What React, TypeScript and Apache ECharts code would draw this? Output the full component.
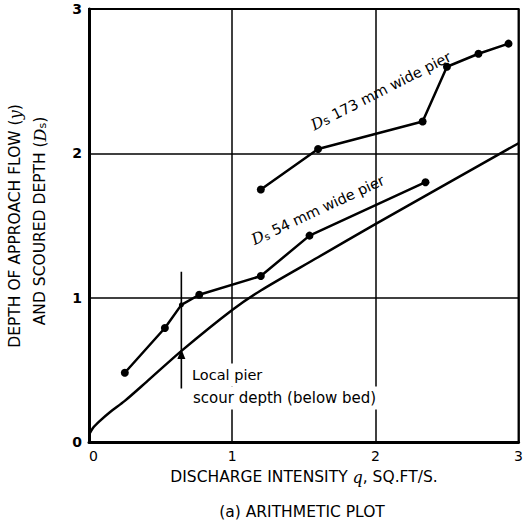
import React, { useEffect, useRef } from 'react';
import * as echarts from 'echarts';

const xTicks = [0, 1, 2, 3];
const yTicks = [0, 1, 2, 3];

// Depth of approach flow (y) vs discharge intensity q
const flowQ = [0, 0.03, 0.08, 0.15, 0.25, 0.4, 0.65, 1.0, 1.2, 1.6, 2.0, 2.5, 3.0];
const flowY = [0.05, 0.1, 0.15, 0.21, 0.285, 0.415, 0.635, 0.915, 1.05, 1.28, 1.51, 1.79, 2.07];

// Scoured depth Ds, 54 mm wide pier
const pier54Q = [0.25, 0.53, 0.645, 0.77, 1.2, 1.54, 2.35];
const pier54Ds = [0.48, 0.79, 0.95, 1.02, 1.15, 1.43, 1.8];

// Scoured depth Ds, 173 mm wide pier
const pier173Q = [1.2, 1.6, 2.33, 2.5, 2.72, 2.93];
const pier173Ds = [1.75, 2.03, 2.22, 2.6, 2.69, 2.76];

// Local pier scour depth (below bed) indicator
const localQ = [0.645, 0.645];
const localDs = [1.18, 0.37];
const triQ = [0.645];
const triY = [0.61];

const FONT = '"DejaVu Sans", "Open Sans", sans-serif';
const SERIF = '"DejaVu Serif", "Liberation Serif", serif';

export default function App() {
  const ref = useRef<HTMLDivElement>(null);
  useEffect(() => {
    if (!ref.current) return;
    const chart = echarts.init(ref.current, null, { renderer: 'svg' });
    const zip = (a: number[], b: number[]) => a.map((v, i) => [v, b[i]]);
    const lineStyle = { color: '#000', width: 2.5 };
    chart.setOption({
      animation: false,
      backgroundColor: '#fff',
      grid: {
        left: 89,
        right: 4,
        top: 9,
        bottom: 86,
        show: true,
        borderColor: '#000',
        borderWidth: 2,
      },
      xAxis: {
        type: 'value',
        min: xTicks[0],
        max: xTicks[xTicks.length - 1],
        interval: 1,
        axisLine: { show: true, lineStyle: { color: '#000', width: 3 } },
        axisTick: { show: false },
        splitLine: { show: true, lineStyle: { color: '#000', width: 1.5 } },
        axisLabel: {
          color: '#000',
          fontFamily: FONT,
          fontSize: 14,
          margin: 7,
          alignMinLabel: 'left',
        },
      },
      yAxis: {
        type: 'value',
        min: yTicks[0],
        max: yTicks[yTicks.length - 1],
        interval: 1,
        axisLine: { show: true, lineStyle: { color: '#000', width: 3 } },
        axisTick: { show: false },
        splitLine: { show: true, lineStyle: { color: '#000', width: 1.5 } },
        axisLabel: {
          color: '#000',
          fontFamily: FONT,
          fontWeight: 'bold',
          fontSize: 14,
          margin: 7,
        },
      },
      series: [
        {
          type: 'line',
          data: zip(flowQ, flowY),
          smooth: 0.3,
          showSymbol: false,
          lineStyle,
          z: 3,
        },
        {
          type: 'line',
          data: zip(pier54Q, pier54Ds).map((p, i) => ({
            value: p,
            symbolSize: i === 2 ? 5 : 8,
          })),
          symbol: 'circle',
          itemStyle: { color: '#000' },
          lineStyle,
          z: 4,
        },
        {
          type: 'line',
          data: zip(pier173Q, pier173Ds),
          symbol: 'circle',
          symbolSize: 8,
          itemStyle: { color: '#000' },
          lineStyle,
          z: 4,
        },
        {
          type: 'line',
          data: zip(localQ, localDs),
          showSymbol: false,
          lineStyle: { color: '#000', width: 1.6 },
          z: 3,
        },
        {
          type: 'scatter',
          data: zip(triQ, triY),
          symbol: 'triangle',
          symbolSize: [8, 10],
          itemStyle: { color: '#000', opacity: 1 },
          z: 6,
        },
      ],
      graphic: [
        {
          type: 'text',
          x: 381,
          y: 91,
          rotation: (27 * Math.PI) / 180,
          z: 10,
          style: {
            text: '{d|D}{s|s} 173 mm wide pier',
            fontFamily: FONT,
            fontSize: 14.5,
            fill: '#000',
            align: 'center',
            verticalAlign: 'middle',
            rich: {
              d: { fontFamily: SERIF, fontStyle: 'italic', fontSize: 15.5, fill: '#000' },
              s: { fontFamily: FONT, fontSize: 12, fill: '#000', padding: [3, 0, 0, 0] },
            },
          },
        },
        {
          type: 'text',
          x: 318,
          y: 210,
          rotation: (25 * Math.PI) / 180,
          z: 10,
          style: {
            text: '{d|D}{s|s} 54 mm wide pier',
            fontFamily: FONT,
            fontSize: 14.5,
            fill: '#000',
            align: 'center',
            verticalAlign: 'middle',
            rich: {
              d: { fontFamily: SERIF, fontStyle: 'italic', fontSize: 15.5, fill: '#000' },
              s: { fontFamily: FONT, fontSize: 10, fill: '#000', padding: [5, 0, 0, 0] },
            },
          },
        },
        {
          type: 'text',
          x: 189,
          y: 375,
          z: 10,
          style: {
            text: 'Local pier',
            fontFamily: FONT,
            fontSize: 14.5,
            fill: '#000',
            align: 'left',
            verticalAlign: 'middle',
            backgroundColor: '#fff',
            padding: [4, 3, 4, 3],
          },
        },
        {
          type: 'text',
          x: 190,
          y: 398,
          z: 10,
          style: {
            text: 'scour depth (below bed)',
            fontFamily: FONT,
            fontSize: 15,
            fill: '#000',
            align: 'left',
            verticalAlign: 'middle',
            backgroundColor: '#fff',
            padding: [4, 3, 4, 3],
          },
        },
        {
          type: 'text',
          x: 304,
          y: 477,
          style: {
            text: 'DISCHARGE INTENSITY {q|q}, SQ.FT/S.',
            fontFamily: FONT,
            fontSize: 15.5,
            fill: '#000',
            align: 'center',
            verticalAlign: 'middle',
            rich: {
              q: { fontFamily: SERIF, fontStyle: 'italic', fontSize: 16, fill: '#000' },
            },
          },
        },
        {
          type: 'text',
          x: 302,
          y: 512,
          style: {
            text: '(a) ARITHMETIC PLOT',
            fontFamily: FONT,
            fontSize: 15.5,
            fill: '#000',
            align: 'center',
            verticalAlign: 'middle',
          },
        },
        {
          type: 'text',
          x: 15,
          y: 226,
          rotation: Math.PI / 2,
          style: {
            text: 'DEPTH OF APPROACH FLOW ({i|y})',
            fontFamily: FONT,
            fontSize: 15.5,
            fill: '#000',
            align: 'center',
            verticalAlign: 'middle',
            rich: {
              i: { fontFamily: SERIF, fontStyle: 'italic', fontSize: 16, fill: '#000' },
            },
          },
        },
        {
          type: 'text',
          x: 40,
          y: 221,
          rotation: Math.PI / 2,
          style: {
            text: 'AND SCOURED DEPTH ({i|D}{s|s})',
            fontFamily: FONT,
            fontSize: 15.5,
            fill: '#000',
            align: 'center',
            verticalAlign: 'middle',
            rich: {
              i: { fontFamily: SERIF, fontStyle: 'italic', fontSize: 16, fill: '#000' },
              s: { fontFamily: FONT, fontSize: 11, fill: '#000', padding: [5, 0, 0, 0] },
            },
          },
        },
      ],
    });
    return () => chart.dispose();
  }, []);
  return <div ref={ref} style={{ width: 526, height: 528, position: 'absolute', left: 0, top: 0 }} />;
}
